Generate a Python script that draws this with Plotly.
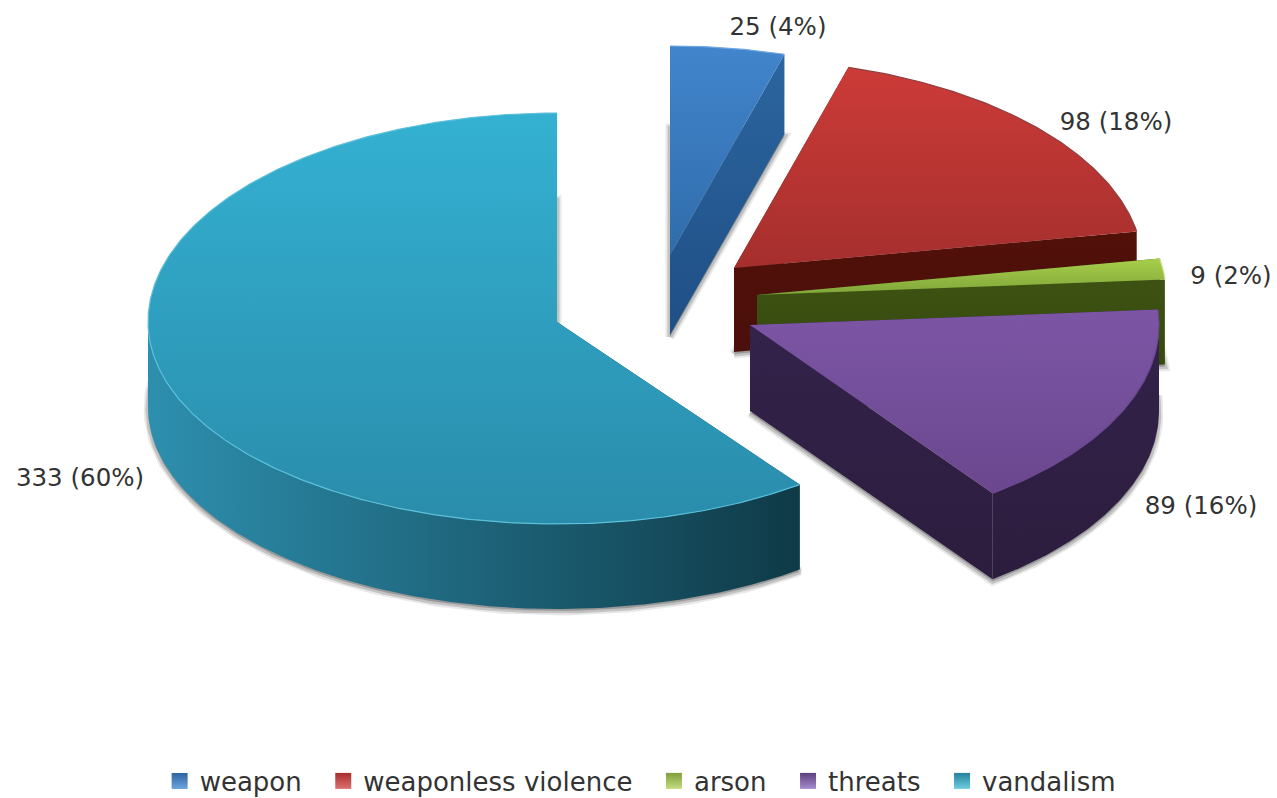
import math
import plotly.graph_objects as go

# ---- data ----
categories = ["weapon", "weaponless violence", "arson", "threats", "vandalism"]
counts = [25, 98, 9, 89, 333]
percents = [4, 18, 2, 16, 60]

# ---- styling / layout ----
W, H = 1277, 798
RX, RY_UP = 409, 209
centres = [(670, 255), (734, 268), (757, 295), (750, 325), (557, 322)]
depths = [80, 84, 85, 86, 85]
ry_low = [209, 209, 209, 209, 202]
# (bottom colour, top colour): the y axis is reversed, so the scale runs upward on screen
top_cols = [("#2f6cab", "#4285cc"), ("#a52f2d", "#cc3b38"), ("#7fa53a", "#a8cf4a"),
            ("#6b478f", "#7c56a5"), ("#2a8cab", "#34b1d2")]
wall_cols = [("#1f4f85", "#2c659f"), ("#4a100c", "#521009"), ("#35480f", "#3d5212"),
             ("#2c1d3e", "#33224a"), ("#2d8fae", "#0f3a47")]
rim_cols = ["#6fa6e0", "#8e3f3e", "#c4dd80", "#6b478f", "#5cc0da"]
legend_cols = ["#2b62a0", "#a52f2d", "#7f9f3a", "#5d3f80", "#23819c"]
legend_hi = ["#6fa6e0", "#dd7070", "#c4dd80", "#a58ccc", "#70cde0"]
label_pos = [(778, 29), (1116, 124), (1231, 278), (1201, 508), (80, 480)]
INK = "#333333"
FONT = "DejaVu Sans"
LEGEND_PAD = "\u00a0\u00a0"

total = sum(counts)


def pt(c, theta, low, dy=0):
    ry = RY_UP if math.cos(theta) >= 0 else low
    return c[0] + RX * math.sin(theta), c[1] - ry * math.cos(theta) + dy


def arc(c, a0, a1, low, dy=0):
    n = max(int(abs(a1 - a0) / 0.01), 2)
    pts = [pt(c, a0 + (a1 - a0) * i / n, low, dy) for i in range(n + 1)]
    return [p[0] for p in pts], [p[1] for p in pts]


fig = go.Figure()


def poly(xs, ys, color=None, grad=None, gtype="vertical", line=None, width=0):
    kw = dict(x=xs + xs[:1], y=ys + ys[:1], mode="lines", fill="toself",
              hoverinfo="skip", showlegend=False,
              line=dict(width=width, color=line or "rgba(0,0,0,0)"))
    if grad:
        kw["fillgradient"] = dict(type=gtype, colorscale=[[0, grad[0]], [1, grad[1]]])
    else:
        kw["fillcolor"] = color
    fig.add_trace(go.Scatter(**kw))


angle = 0.0
for i, v in enumerate(counts):
    a0, a1 = angle, angle + 2 * math.pi * v / total
    angle = a1
    c, d, low = centres[i], depths[i], ry_low[i]

    # soft shadow: the bottom face, blurred outward
    ax, ay = arc(c, a0, a1, low, d + 2)
    sx, sy = [c[0]] + ax, [c[1] + d + 2] + ay
    poly(sx, sy, color="rgba(120,120,120,0.25)", line="rgba(120,120,120,0.16)", width=9)
    poly(sx, sy, color="rgba(110,110,110,0.35)", line="rgba(110,110,110,0.30)", width=5)

    # cut faces
    for a in (a0, a1):
        e = pt(c, a, low)
        poly([c[0], e[0], e[0], c[0]], [c[1], e[1], e[1] + d, c[1] + d],
             grad=wall_cols[i] if i != 4 else None,
             color=wall_cols[i][1] if i == 4 else None)

    # outer wall: only the part facing the viewer (lower half of the ellipse)
    w0, w1 = max(a0, math.pi / 2), min(a1, 3 * math.pi / 2)
    if w1 > w0:
        tx, ty = arc(c, w0, w1, low)
        bx, by = arc(c, w0, w1, low, d)
        poly(tx + bx[::-1], ty + by[::-1], grad=wall_cols[i],
             gtype="horizontal" if i == 4 else "vertical")

    # top face
    tx, ty = arc(c, a0, a1, low)
    poly([c[0]] + tx, [c[1]] + ty, grad=top_cols[i])
    fig.add_trace(go.Scatter(x=tx, y=ty, mode="lines", hoverinfo="skip", showlegend=False,
                             line=dict(color=rim_cols[i], width=1.2)))

# value labels
fig.add_trace(go.Scatter(
    x=[p[0] for p in label_pos], y=[p[1] for p in label_pos], mode="text",
    text=[f"{v} ({p}%)" for v, p in zip(counts, percents)],
    textposition="middle center", hoverinfo="skip", showlegend=False,
    textfont=dict(family=FONT, size=24.5, color=INK)))

# legend
for name, col, hi in zip(categories, legend_cols, legend_hi):
    fig.add_trace(go.Scatter(x=[None], y=[None], mode="markers", name=name + LEGEND_PAD,
                             marker=dict(symbol="square", size=19, color=col,
                                         gradient=dict(type="vertical", color=hi))))

fig.update_layout(
    width=W, height=H, margin=dict(l=0, r=0, t=0, b=0, autoexpand=False),
    paper_bgcolor="white", plot_bgcolor="white",
    xaxis=dict(range=[0, W], visible=False, fixedrange=True),
    yaxis=dict(range=[H, 0], visible=False, fixedrange=True),
    legend=dict(orientation="h", x=0.125, xanchor="left",
                yref="container", y=0.0213, yanchor="middle",
                itemsizing="trace", font=dict(family=FONT, size=26, color=INK),
                bgcolor="rgba(0,0,0,0)", traceorder="normal"),
    showlegend=True,
)
fig.write_html("out.html", config={"displayModeBar": False},
               post_script="document.body.style.margin='0';")
